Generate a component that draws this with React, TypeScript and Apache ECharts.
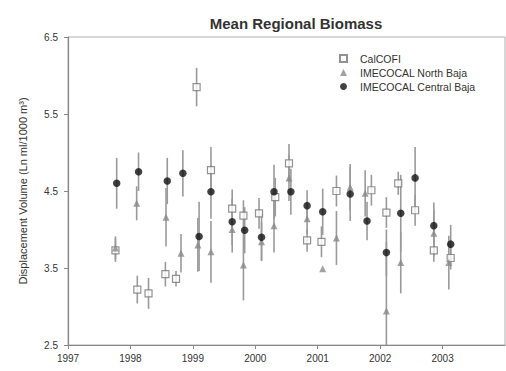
import React, { useEffect, useRef } from "react";
import * as echarts from "echarts";

const titleText = "Mean Regional Biomass";
const yAxisTitle = "Displacement Volume (Ln ml/1000 m³)";
const seriesNames = ["CalCOFI", "IMECOCAL North Baja", "IMECOCAL Central Baja"];

const calDates = [1997.76, 1998.11, 1998.29, 1998.56, 1998.73, 1999.06, 1999.29, 1999.63, 1999.81, 2000.06, 2000.32, 2000.54, 2000.83, 2001.06, 2001.3, 2001.86, 2002.1, 2002.29, 2002.56, 2002.86, 2003.13];
const calValues = [3.73, 3.22, 3.17, 3.42, 3.36, 5.85, 4.77, 4.27, 4.18, 4.21, 4.42, 4.86, 3.86, 3.84, 4.5, 4.51, 4.22, 4.6, 4.25, 3.73, 3.63];
const calErrors = [0.15, 0.18, 0.2, 0.16, 0.1, 0.25, 0.3, 0.25, 0.2, 0.2, 0.25, 0.25, 0.15, 0.2, 0.2, 0.2, 0.2, 0.15, 0.2, 0.15, 0.15];

const northDates = [1997.76, 1998.1, 1998.57, 1998.81, 1999.08, 1999.29, 1999.63, 1999.81, 2000.1, 2000.3, 2000.54, 2000.83, 2001.08, 2001.3, 2001.52, 2001.76, 2002.1, 2002.33, 2002.86, 2003.1];
const northValues = [3.76, 4.34, 4.16, 3.69, 3.8, 3.71, 4.0, 3.54, 3.84, 4.05, 4.67, 4.14, 3.49, 3.89, 4.55, 4.47, 2.94, 3.57, 3.95, 3.57];
const northErrors = [0.15, 0.22, 0.38, 0.25, 0.35, 0.4, 0.3, 0.46, 0.25, 0.35, 0.3, 0.2, 0.0, 0.35, 0.3, 0.3, 0.9, 0.4, 0.3, 0.35];

const centralDates = [1997.78, 1998.13, 1998.59, 1998.84, 1999.1, 1999.29, 1999.63, 1999.83, 2000.1, 2000.3, 2000.57, 2000.83, 2001.08, 2001.52, 2001.79, 2002.1, 2002.33, 2002.56, 2002.86, 2003.13];
const centralValues = [4.6, 4.75, 4.63, 4.73, 3.91, 4.49, 4.1, 3.99, 3.9, 4.49, 4.49, 4.31, 4.23, 4.46, 4.11, 3.7, 4.21, 4.67, 4.05, 3.81];
const centralErrors = [0.33, 0.25, 0.3, 0.3, 0.45, 0.35, 0.3, 0.3, 0.3, 0.35, 0.3, 0.2, 0.3, 0.35, 0.25, 0.3, 0.5, 0.4, 0.3, 0.25];

const FONT = "Liberation Sans, Arial, sans-serif";

function pts(d: number[], v: number[]) {
  return d.map((x, i) => [x, v[i]]);
}
function bars(d: number[], v: number[], e: number[]) {
  return d.map((x, i) => [x, v[i] - e[i], v[i] + e[i]]);
}

function errorSeries(data: number[][]) {
  return {
    type: "custom",
    silent: true,
    clip: true,
    z: 1,
    data,
    renderItem: (params: any, api: any) => {
      const x = api.value(0);
      const p1 = api.coord([x, api.value(1)]);
      const p2 = api.coord([x, api.value(2)]);
      return {
        type: "line",
        shape: { x1: p1[0], y1: p1[1], x2: p2[0], y2: p2[1] },
        style: { stroke: "#9a9a9a", lineWidth: 1.6 },
      };
    },
  };
}

export default function App() {
  const ref = useRef<HTMLDivElement>(null);
  useEffect(() => {
    if (!ref.current) return;
    const chart = echarts.init(ref.current, undefined, { renderer: "svg" });
    chart.setOption({
      animation: false,
      backgroundColor: "#ffffff",
      textStyle: { fontFamily: FONT },
      title: {
        text: titleText,
        left: 291,
        textAlign: "center",
        top: 11,
        textStyle: { fontFamily: FONT, fontSize: 15, fontWeight: "bold", color: "#333" },
      },
      legend: {
        orient: "vertical",
        left: 334,
        top: 48,
        itemWidth: 7,
        itemHeight: 7,
        itemGap: 3,
        data: [
          { name: seriesNames[0], icon: "rect" },
          { name: seriesNames[1], icon: "triangle" },
          { name: seriesNames[2], icon: "circle" },
        ],
        textStyle: { fontFamily: FONT, fontSize: 10.5, color: "#333", padding: [0, 0, 0, 8] },
      },
      grid: {
        left: 68,
        top: 37,
        right: 1,
        bottom: 26,
        show: true,
        borderColor: "#b0b0b0",
        borderWidth: 1,
      },
      xAxis: {
        type: "value",
        min: 1997,
        max: 2004,
        interval: 1,
        splitLine: { show: false },
        axisLine: { lineStyle: { color: "#888", width: 1.2 } },
        axisTick: { show: true, length: 4, lineStyle: { color: "#888" } },
        axisLabel: {
          fontFamily: FONT,
          fontSize: 10,
          color: "#333",
          margin: 8,
          showMaxLabel: false,
          formatter: (v: number) => String(v),
        },
      },
      yAxis: {
        type: "value",
        min: 2.5,
        max: 6.5,
        interval: 1,
        name: yAxisTitle,
        nameLocation: "middle",
        nameGap: 40,
        nameTextStyle: { fontFamily: FONT, fontSize: 11, color: "#333" },
        splitLine: { show: false },
        axisLine: { show: true, lineStyle: { color: "#888", width: 1.2 } },
        axisTick: { show: true, length: 4, lineStyle: { color: "#888" } },
        axisLabel: {
          fontFamily: FONT,
          fontSize: 10,
          color: "#333",
          margin: 10,
          formatter: (v: number) => v.toFixed(1),
        },
      },
      series: [
        errorSeries(bars(calDates, calValues, calErrors)),
        errorSeries(bars(northDates, northValues, northErrors)),
        errorSeries(bars(centralDates, centralValues, centralErrors)),
        {
          name: seriesNames[0],
          type: "scatter",
          symbol: "rect",
          symbolSize: 7,
          z: 3,
          data: pts(calDates, calValues),
          itemStyle: { color: "#ffffff", borderColor: "#777", borderWidth: 1.2 },
        },
        {
          name: seriesNames[1],
          type: "scatter",
          symbol: "triangle",
          symbolSize: 7,
          z: 3,
          data: pts(northDates, northValues),
          itemStyle: { color: "#8a8a8a" },
        },
        {
          name: seriesNames[2],
          type: "scatter",
          symbol: "circle",
          symbolSize: 7.5,
          z: 4,
          data: pts(centralDates, centralValues),
          itemStyle: { color: "#111" },
        },
      ],
    });
    return () => chart.dispose();
  }, []);
  return (
    <div
      ref={ref}
      style={{ position: "fixed", left: 0, top: 0, width: 506, height: 371, background: "#fff" }}
    />
  );
}
